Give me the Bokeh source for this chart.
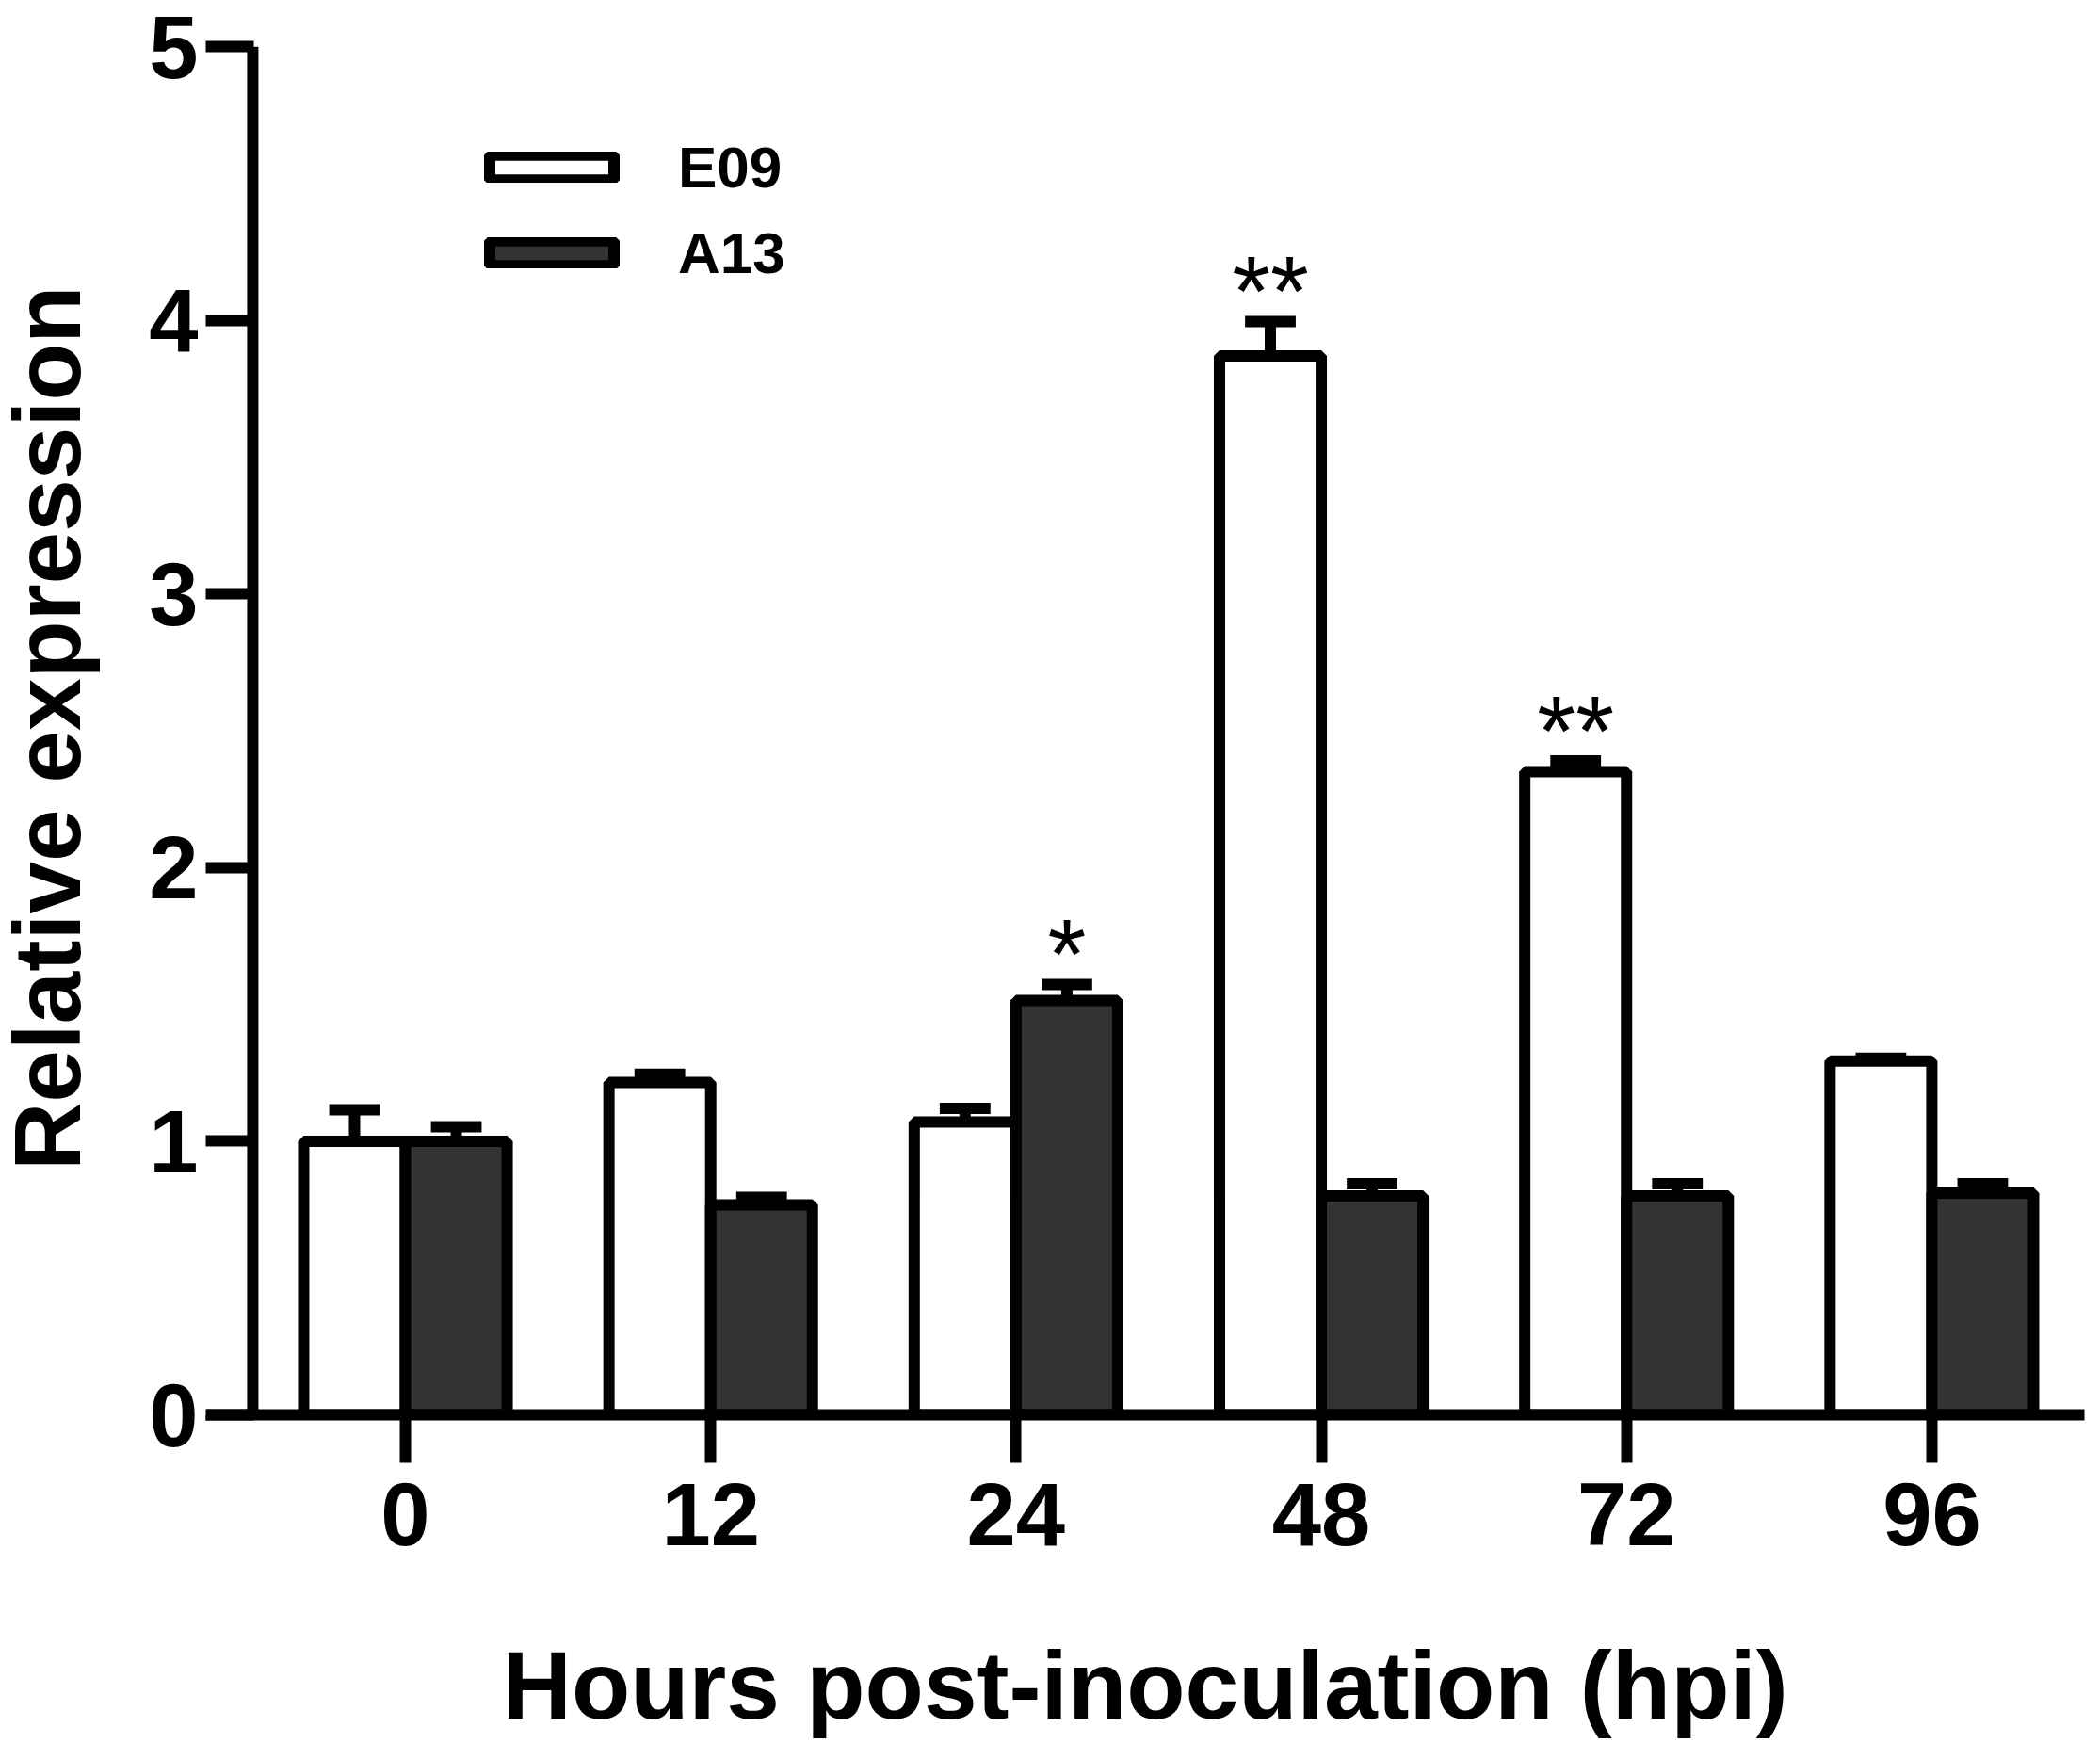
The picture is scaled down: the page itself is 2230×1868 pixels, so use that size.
from bokeh.plotting import figure
from bokeh.models import (ColumnDataSource, FixedTicker, Span, Legend, LegendItem, Range1d, Div)
from bokeh.layouts import row
from bokeh.core.properties import value
from bokeh.embed import file_html
from bokeh.resources import INLINE

# ---- data ----
hours = ["0", "12", "24", "48", "72", "96"]
e09 = [1.00, 1.215, 1.07, 3.87, 2.35, 1.293]
e09_err = [0.115, 0.03, 0.05, 0.125, 0.04, 0.01]
a13 = [1.00, 0.767, 1.514, 0.80, 0.80, 0.81]
a13_err = [0.053, 0.028, 0.059, 0.045, 0.045, 0.035]

sig_series = ["A13", "E09", "E09"]
sig_hours = ["24", "48", "72"]
sig_labels = ["*", "**", "**"]

y_ticks = [0, 1, 2, 3, 4, 5]
x_title = "Hours post-inoculation (hpi)"
y_title = "Relative expression"

# ---- style ----
FONT = "Liberation Sans"
LW = 12
bar_w = 1 / 3
cap_half = 0.083
sig_gap = 0.11
DIV_W = 128

n = len(hours)
idx = list(range(n))
x_e = [i - bar_w / 2 for i in idx]
x_a = [i + bar_w / 2 for i in idx]
up_e = [v + e for v, e in zip(e09, e09_err)]
up_a = [v + e for v, e in zip(a13, a13_err)]

src = ColumnDataSource(dict(
    x_e=x_e, x_a=x_a, e09=e09, a13=a13, up_e=up_e, up_a=up_a,
    xe0=[x - cap_half for x in x_e], xe1=[x + cap_half for x in x_e],
    xa0=[x - cap_half for x in x_a], xa1=[x + cap_half for x in x_a],
))

p = figure(width=2222 - DIV_W, height=1860,
           x_range=Range1d(-0.654, 5.5), y_range=Range1d(0, 5),
           output_backend="svg", toolbar_location=None,
           min_border_left=90, min_border_right=9,
           min_border_top=49, min_border_bottom=358)
p.xgrid.visible = False
p.ygrid.visible = False
p.outline_line_color = None

# error bars
for xs, lo, hi, x0, x1 in [("x_e", "e09", "up_e", "xe0", "xe1"), ("x_a", "a13", "up_a", "xa0", "xa1")]:
    p.segment(x0=xs, y0=lo, x1=xs, y1=hi, source=src, line_color="black", line_width=LW)
    p.segment(x0=x0, y0=hi, x1=x1, y1=hi, source=src, line_color="black", line_width=LW)

r_e = p.vbar(x="x_e", top="e09", bottom=0, width=bar_w, source=src,
             fill_color="white", line_color="black", line_width=LW)
r_a = p.vbar(x="x_a", top="a13", bottom=0, width=bar_w, source=src,
             fill_color="#333333", line_color="black", line_width=LW)

# significance marks
sx, sy = [], []
for s, h in zip(sig_series, sig_hours):
    i = hours.index(h)
    if s == "E09":
        sx.append(x_e[i]); sy.append(up_e[i] + sig_gap)
    else:
        sx.append(x_a[i]); sy.append(up_a[i] + sig_gap)
p.text(x=sx, y=sy, text=sig_labels, text_font=value(FONT), text_font_size="105px",
       text_align="center", text_baseline="alphabetic", text_color="black")

# y axis line (offset from the frame edge)
p.add_layout(Span(location=-0.5, dimension="height", line_color="black", line_width=LW))

# x axis
xa = p.xaxis[0]
xa.ticker = FixedTicker(ticks=idx)
xa.major_label_overrides = {i: h for i, h in zip(idx, hours)}
xa.axis_line_width = LW
xa.axis_line_color = "black"
xa.major_tick_line_width = LW
xa.major_tick_line_color = "black"
xa.major_tick_out = 51
xa.major_tick_in = 0
xa.minor_tick_line_color = None
xa.major_label_text_font = FONT
xa.major_label_text_font_style = "bold"
xa.major_label_text_font_size = "94px"
xa.major_label_text_color = "black"
xa.major_label_standoff = 21
xa.axis_label = x_title
xa.axis_label_text_font = FONT
xa.axis_label_text_font_style = "bold"
xa.axis_label_text_font_size = "102px"
xa.axis_label_text_color = "black"
xa.axis_label_standoff = 89

# y axis
ya = p.yaxis[0]
ya.ticker = FixedTicker(ticks=y_ticks)
ya.axis_line_color = "white"
ya.axis_line_width = 1
ya.major_tick_line_width = LW
ya.major_tick_line_color = "black"
ya.major_tick_in = 51
ya.major_tick_out = 0
ya.minor_tick_line_color = None
ya.major_label_text_font = FONT
ya.major_label_text_font_style = "bold"
ya.major_label_text_font_size = "94px"
ya.major_label_text_color = "black"
ya.major_label_standoff = 8

legend = Legend(items=[LegendItem(label="E09", renderers=[r_e]),
                       LegendItem(label="A13", renderers=[r_a])],
                location=(285, 1198), glyph_width=165, glyph_height=33,
                label_standoff=52, spacing=20, padding=0, margin=0,
                border_line_alpha=0, background_fill_alpha=0,
                label_text_font=FONT, label_text_font_style="bold",
                label_text_font_size="62px", label_text_color="black")
p.add_layout(legend)

# vertical y-axis title as HTML text (rotated with CSS writing-mode)
ydiv = Div(
    text=('<div style="writing-mode: vertical-rl; transform: rotate(180deg); '
          'height: 1546px; width: %dpx; text-align: center; white-space: nowrap; '
          "font-family: 'Liberation Sans'; font-weight: bold; font-size: 100px; "
          'line-height: 1; color: black;">%s</div>') % (DIV_W, y_title),
    width=DIV_W, height=1860, margin=0)

layout = row(ydiv, p, spacing=0)
open("out.html", "w").write(file_html(layout, INLINE))
